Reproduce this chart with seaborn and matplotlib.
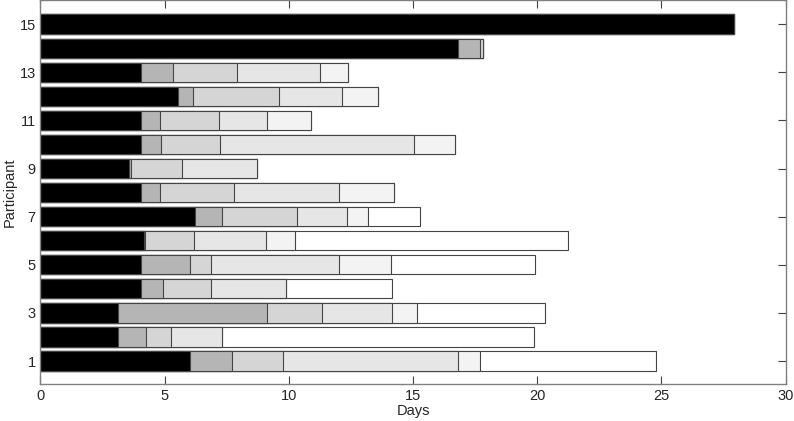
import numpy as np
import pandas as pd
import matplotlib
matplotlib.use("Agg")
import matplotlib.pyplot as plt
import seaborn as sns

participants = list(range(1, 16))

# end day of each stage for every participant (1..15)
stage1_end = [6.0, 3.13, 3.13, 4.04, 4.04, 4.18, 6.24, 4.04, 3.57, 4.04, 4.04, 5.53, 4.04, 16.79, 27.94]
stage2_end = [7.7, 4.26, 9.13, 4.92, 6.0, 4.22, 7.32, 4.81, 3.63, 4.86, 4.81, 6.15, 5.32, 17.69, 27.94]
stage3_end = [9.75, 5.26, 11.33, 6.86, 6.87, 6.19, 10.33, 7.8, 5.68, 7.24, 7.17, 9.61, 7.93, 17.82, 27.94]
stage4_end = [16.8, 7.29, 14.16, 9.87, 12.0, 9.06, 12.35, 12.0, 8.7, 15.04, 9.13, 12.15, 11.27, 17.82, 27.94]
stage5_end = [17.7, 7.29, 15.16, 9.87, 14.13, 10.23, 13.2, 14.23, 8.72, 16.7, 10.91, 13.59, 12.36, 17.82, 27.94]
stage6_end = [24.77, 19.85, 20.31, 14.17, 19.9, 21.24, 15.28, 14.23, 8.72, 16.7, 10.91, 13.59, 12.36, 17.82, 27.94]

stage_colors = ["#000000", "#b5b5b5", "#d5d5d5", "#e6e6e6", "#f3f3f3", "#ffffff"]

df = pd.DataFrame({
    "participant": participants,
    "s1": stage1_end, "s2": stage2_end, "s3": stage3_end,
    "s4": stage4_end, "s5": stage5_end, "s6": stage6_end,
})

sns.set_style("white")
plt.rcParams["font.family"] = ["Liberation Sans", "DejaVu Sans"]

fig = plt.figure(figsize=(7.94, 4.21), dpi=100)
ax = fig.add_axes([0.051, 0.088, 0.9385, 0.912])

# draw longest (cumulative) bars first, shorter ones on top
cols = ["s1", "s2", "s3", "s4", "s5", "s6"]
for col, c in reversed(list(zip(cols, stage_colors))):
    sns.barplot(data=df, x=col, y="participant", orient="y", native_scale=True,
                color=c, saturation=1, edgecolor="#454545", linewidth=0.8,
                width=0.8, ax=ax)

ax.set_xlim(0, 30)
ax.set_ylim(0.05, 16.0)
ax.set_xticks([0, 5, 10, 15, 20, 25, 30])
ax.set_yticks([1, 3, 5, 7, 9, 11, 13, 15])
ax.tick_params(direction="in", length=6, width=0.8, color="#404040",
               top=True, right=True, bottom=True, left=True, labelsize=10.5)
ax.set_xlabel("Days", fontsize=10.5, labelpad=1)
ax.set_ylabel("Participant", fontsize=10.5, labelpad=2)
for s in ax.spines.values():
    s.set_color("#808080")
    s.set_linewidth(1.0)

fig.savefig("out.png", dpi=100)
